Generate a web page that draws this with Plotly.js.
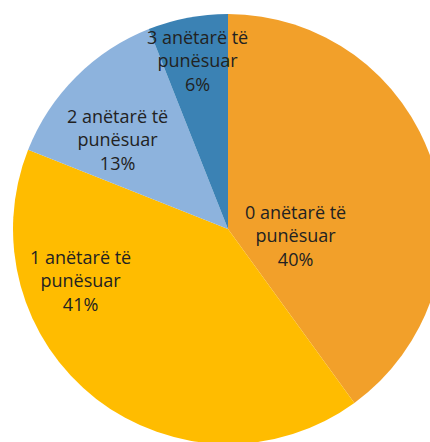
<!DOCTYPE html>
<html>
<head>
<meta charset="utf-8">
<script src="https://cdn.plot.ly/plotly-3.0.1.min.js"></script>
<style>
html, body { margin: 0; padding: 0; overflow: hidden; background: #fff; width: 430px; height: 442px; }
#chart { width: 460px; height: 460px; }
</style>
</head>
<body>
<div id="chart"></div>
<script>
// Data
var categories = ["0 anëtarë të punësuar", "1 anëtarë të punësuar", "2 anëtarë të punësuar", "3 anëtarë të punësuar"];
var shares = [40, 41, 13, 6];
var sliceColors = ["#F2A02A", "#FFBC00", "#8DB3DD", "#3B82B4"];

// Label placement (paper coordinates, layout only)
var labelX = [0.658, 0.156, 0.242, 0.430];
var labelY = [0.484, 0.381, 0.707, 0.891];

function wrapLabel(s) {
  var i = s.lastIndexOf(" ");
  return s.slice(0, i) + "<br>" + s.slice(i + 1);
}

var annotations = categories.map(function (c, i) {
  return {
    xref: "paper", yref: "paper",
    x: labelX[i], y: labelY[i],
    xanchor: "center", yanchor: "middle",
    text: wrapLabel(c) + "<br>" + shares[i] + "%",
    showarrow: false,
    align: "center",
    font: { family: "Open Sans, sans-serif", size: 18, color: "#222222" }
  };
});

var trace = {
  type: "pie",
  labels: categories,
  values: shares,
  sort: false,
  direction: "clockwise",
  rotation: 0,
  marker: { colors: sliceColors, line: { width: 0 } },
  textinfo: "none",
  hoverinfo: "none"
};

var layout = {
  width: 460,
  height: 460,
  margin: { l: 13, r: 17, t: 14, b: 16 },
  showlegend: false,
  paper_bgcolor: "#ffffff",
  plot_bgcolor: "#ffffff",
  annotations: annotations
};

Plotly.newPlot("chart", [trace], layout, { displayModeBar: false, staticPlot: true });
</script>
</body>
</html>
